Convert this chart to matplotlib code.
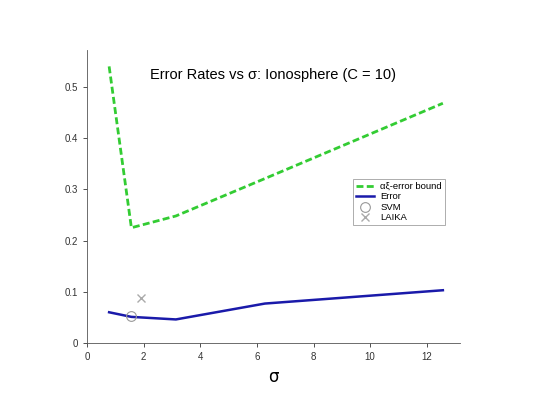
import numpy as np
import matplotlib
matplotlib.use("Agg")
import matplotlib.pyplot as plt

plt.rcParams['font.family'] = ['Liberation Sans', 'DejaVu Sans']

sigma = [0.785, 1.571, 3.142, 6.283, 12.566]
bound = [0.54, 0.225, 0.248, 0.321, 0.468]
error = [0.060, 0.051, 0.046, 0.077, 0.103]
svm_x, svm_y = [1.571], [0.052]
laika_x, laika_y = [1.9], [0.088]

fig = plt.figure(figsize=(5.33, 4.0), dpi=100)
ax = fig.add_axes([0.163, 0.1425, 0.70, 0.7325])
ax.plot(sigma, bound, '--', color='#33cc33', lw=2, dashes=(2.5, 1.2), label='αξ-error bound')
ax.plot(sigma, error, '-', color='#1a1aaa', lw=1.8, label='Error')
ax.plot(svm_x, svm_y, 'o', mfc='none', mec='#999999', ms=7, mew=0.8, ls='none', label='SVM')
ax.plot(laika_x, laika_y, 'x', color='#aaaaaa', ms=6, mew=1, ls='none', label='LAIKA')
ax.set_xlim(0, 13.17)
ax.set_ylim(0, 0.572)
ax.set_xticks([0, 2, 4, 6, 8, 10, 12])
ax.set_yticks([0, 0.1, 0.2, 0.3, 0.4, 0.5])
ax.set_yticklabels(['0', '0.1', '0.2', '0.3', '0.4', '0.5'])
for s in ['top', 'right']:
    ax.spines[s].set_visible(False)
for s in ['left', 'bottom']:
    ax.spines[s].set_color('#555555')
    ax.spines[s].set_linewidth(0.6)
ax.tick_params(labelsize=7, length=3, width=0.6, colors='#333333')
ax.set_xlabel('σ', fontsize=12, family=['DejaVu Sans'])
ax.text(0.5, 0.915, 'Error Rates vs σ: Ionosphere (C = 10)', transform=ax.transAxes,
        ha='center', va='center', fontsize=10.5)
leg = ax.legend(loc='upper left', bbox_to_anchor=(0.70, 0.575), fontsize=6.8,
                frameon=True, fancybox=False, edgecolor='#888888', handlelength=2,
                borderpad=0.3, labelspacing=0.15, handletextpad=0.6)
leg.get_frame().set_linewidth(0.6)
fig.savefig('out.png', dpi=100)
